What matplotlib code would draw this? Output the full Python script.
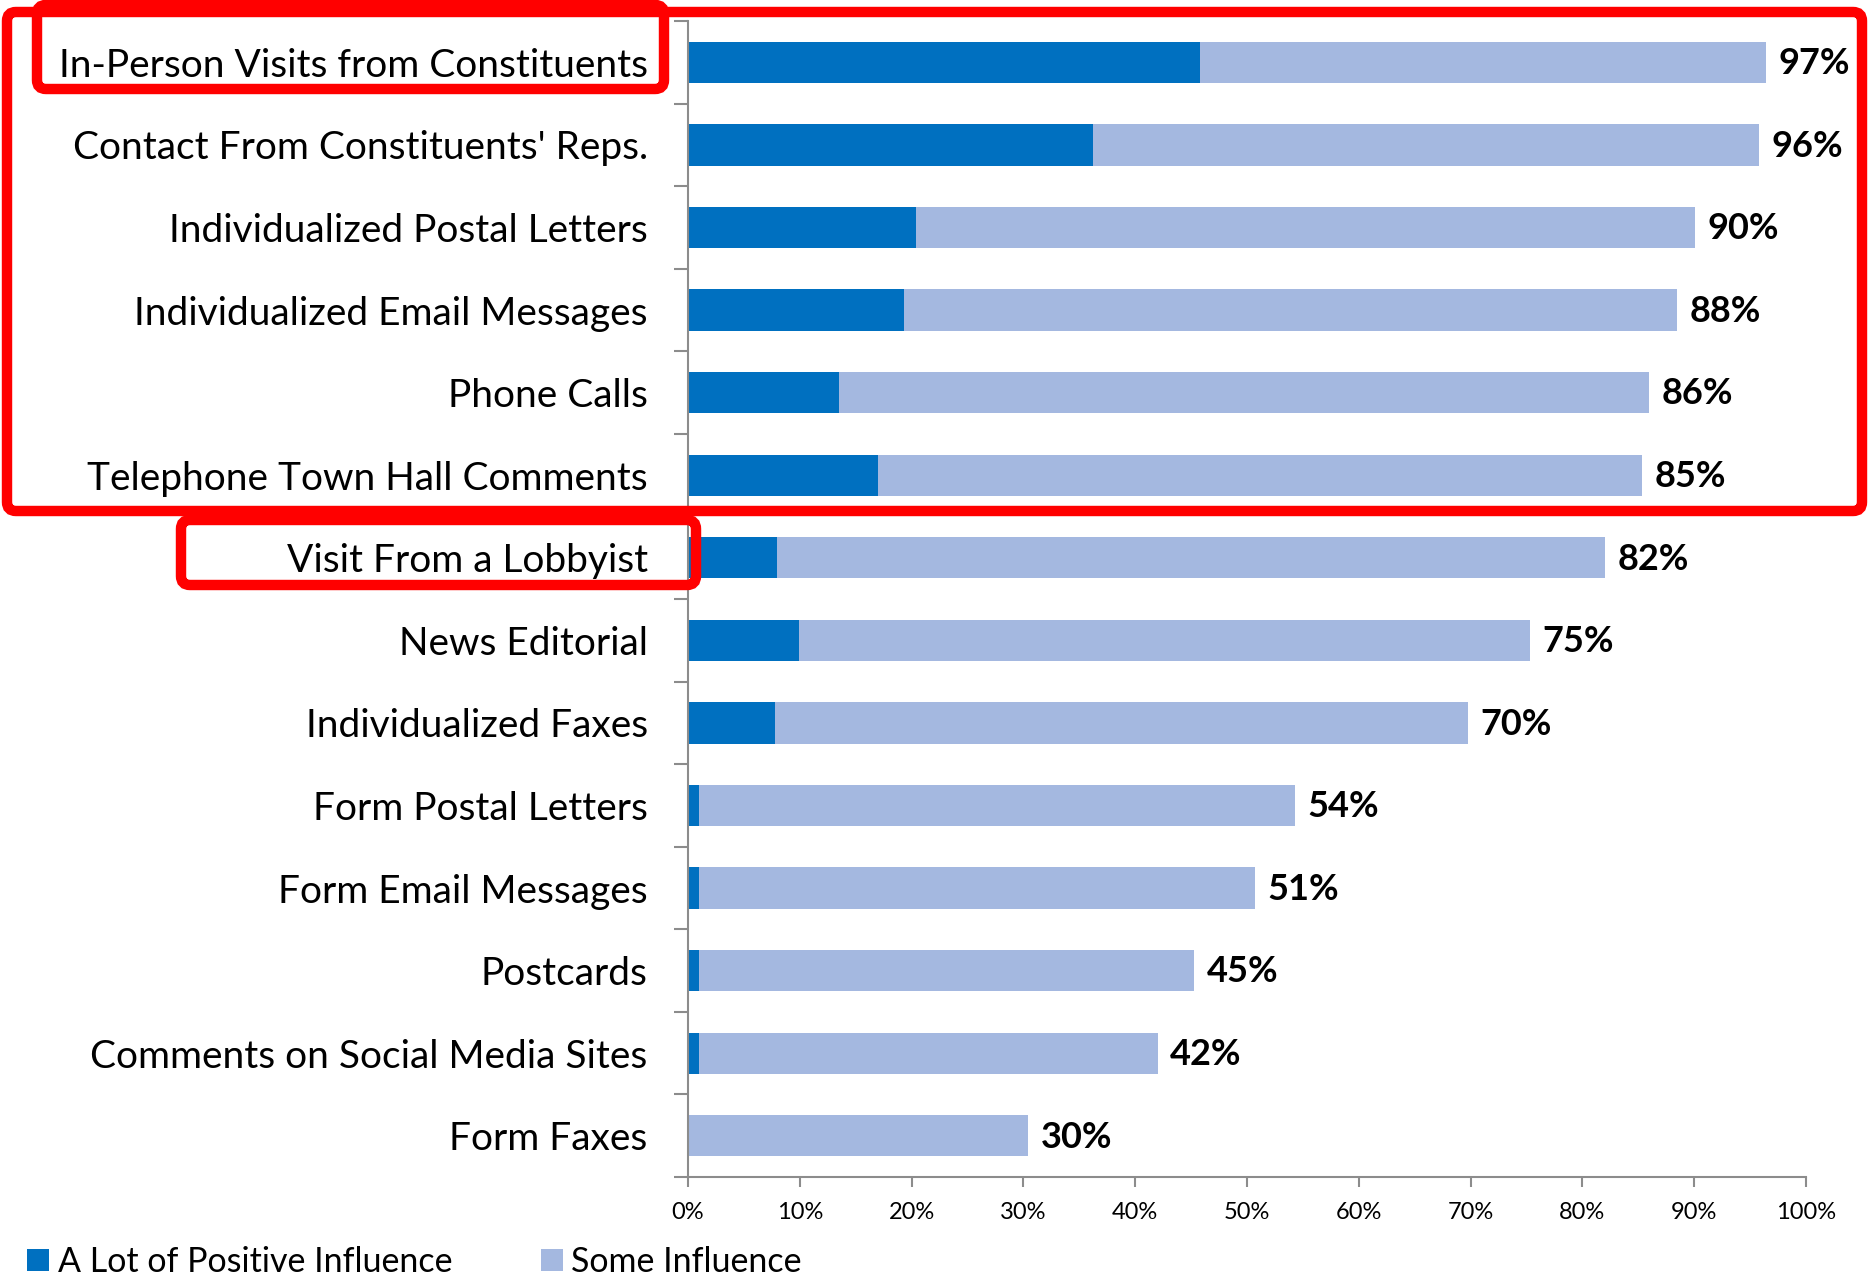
"""
Recreates the 'influence on undecided members' stacked bar chart:
share of staff saying each contact type has a lot of / some influence.
"""

import matplotlib
matplotlib.use("Agg")
import matplotlib.pyplot as plt
from matplotlib.patches import FancyBboxPatch
from matplotlib.ticker import FixedLocator, PercentFormatter

plt.rcParams["font.family"] = ["Lato", "DejaVu Sans"]

categories = [
    "In-Person Visits from Constituents",
    "Contact From Constituents' Reps.",
    "Individualized Postal Letters",
    "Individualized Email Messages",
    "Phone Calls",
    "Telephone Town Hall Comments",
    "Visit From a Lobbyist",
    "News Editorial",
    "Individualized Faxes",
    "Form Postal Letters",
    "Form Email Messages",
    "Postcards",
    "Comments on Social Media Sites",
    "Form Faxes",
]
a_lot = [45.8, 36.2, 20.4, 19.3, 13.5, 17.0, 8.0, 9.9, 7.8, 1.0, 1.0, 1.0, 1.0, 0.0]
some = [50.6, 59.6, 69.7, 69.2, 72.5, 68.3, 74.0, 65.4, 62.0, 53.3, 49.7, 44.3, 41.0, 30.4]
total_labels = [97, 96, 90, 88, 86, 85, 82, 75, 70, 54, 51, 45, 42, 30]
series_names = ["A Lot of Positive Influence", "Some Influence"]

DARK = "#0070C0"
LIGHT = "#A4B8E0"
GREY = "#8C8C8C"
RED = "#FF0000"

W, H, DPI = 1869, 1282, 100

fig = plt.figure(figsize=(W / DPI, H / DPI), dpi=DPI)
ax = fig.add_axes([688 / W, 1 - 1177 / H, (1806 - 688) / W, (1177 - 21) / H])

ypos = list(range(len(categories)))
bars_lot = ax.barh(ypos, a_lot, height=0.5, color=DARK, label=series_names[0])
bars_some = ax.barh(ypos, some, left=a_lot, height=0.5, color=LIGHT,
                    label=series_names[1])

for y, lot, sm, lab in zip(ypos, a_lot, some, total_labels):
    ax.annotate(f"{lab}%", (lot + sm, y), xytext=(9, -1),
                textcoords="offset points", ha="left", va="center",
                fontsize=26, fontweight="bold", color="black")

ax.set_xlim(0, 100)
ax.set_ylim(len(categories) - 0.5, -0.5)
ax.xaxis.set_major_locator(FixedLocator(range(0, 101, 10)))
ax.xaxis.set_major_formatter(PercentFormatter(decimals=0))
ax.set_yticks(ypos)
ax.set_yticklabels(categories, fontsize=28)
ax.yaxis.set_minor_locator(FixedLocator([i - 0.5 for i in range(len(categories) + 1)]))

ax.tick_params(axis="y", which="major", length=0, pad=29)
ax.tick_params(axis="y", which="minor", length=10, width=1.5, color=GREY)
ax.tick_params(axis="x", length=7, width=1.5, color=GREY, labelsize=17, pad=11)

for side in ["top", "right"]:
    ax.spines[side].set_visible(False)
for side in ["left", "bottom"]:
    ax.spines[side].set_color(GREY)
    ax.spines[side].set_linewidth(1.5)

fig.legend(handles=[bars_lot, bars_some], loc="center left",
           bbox_to_anchor=(27 / W, 1 - 1262 / H), ncol=2, frameon=False,
           fontsize=24.5, handlelength=0.65, handleheight=0.65,
           handletextpad=0.25, columnspacing=2.6, borderpad=0,
           borderaxespad=0)

# red highlight boxes, given in pixels from the top-left corner
boxes = [(7, 12, 1862, 511), (37, 5, 664, 89), (181, 520, 696, 585)]
for x0, y0, x1, y1 in boxes:
    patch = FancyBboxPatch((x0 / DPI, (H - y1) / DPI), (x1 - x0) / DPI,
                           (y1 - y0) / DPI,
                           boxstyle="round,pad=0,rounding_size=0.09",
                           transform=fig.dpi_scale_trans, fill=False,
                           edgecolor=RED, linewidth=7.5, zorder=10)
    fig.patches.append(patch)

fig.savefig("out.png", dpi=DPI, facecolor="white")
